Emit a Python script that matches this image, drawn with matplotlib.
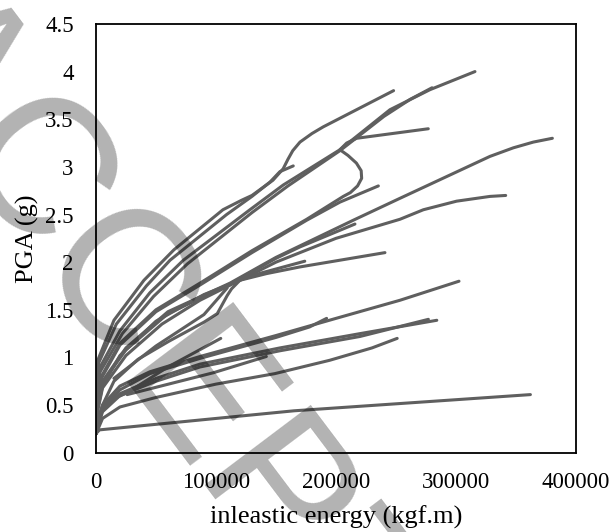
import matplotlib
matplotlib.use("Agg")
import matplotlib.pyplot as plt

plt.rcParams['font.family'] = ['Liberation Serif', 'DejaVu Serif']

# IDA-type curves: inelastic energy (kgf.m) vs PGA (g)
top_38_x = [0, 800, 1500, 15000, 40000, 65000, 105800, 121400, 130000, 147500, 156000, 160000, 164000, 170000, 180000, 189400, 248000]
top_38_y = [0.20, 0.80, 0.97, 1.39, 1.81, 2.13, 2.55, 2.65, 2.70, 2.86, 2.98, 3.08, 3.17, 3.26, 3.35, 3.42, 3.80]

c30_x = [0, 800, 2500, 17000, 42000, 61700, 108900, 130000, 145000, 153300, 164400]
c30_y = [0.20, 0.70, 0.95, 1.35, 1.75, 2.02, 2.50, 2.69, 2.84, 2.95, 3.01]

c40_x = [0, 800, 3500, 20000, 45000, 72800, 128300, 156100, 203300, 245000, 278300, 315800]
c40_y = [0.20, 0.60, 0.90, 1.28, 1.68, 2.02, 2.55, 2.81, 3.18, 3.60, 3.81, 4.00]

c38_x = [0, 800, 3500, 22000, 48000, 76000, 130000, 160000, 203300, 240000, 262000, 280000]
c38_y = [0.20, 0.55, 0.85, 1.25, 1.64, 1.98, 2.52, 2.80, 3.17, 3.53, 3.71, 3.83]

loop34_x = [0, 800, 4500, 20000, 50000, 86700, 130000, 175600, 206100, 212000, 218000, 221400, 221000, 217000, 210000, 203300, 208900, 217200, 276900]
loop34_y = [0.20, 0.50, 0.80, 1.15, 1.50, 1.78, 2.12, 2.45, 2.69, 2.73, 2.80, 2.88, 2.96, 3.04, 3.12, 3.18, 3.25, 3.30, 3.40]

c28_x = [0, 800, 4500, 20000, 50000, 86700, 130000, 175600, 203300, 235300]
c28_y = [0.20, 0.48, 0.78, 1.13, 1.48, 1.76, 2.10, 2.44, 2.63, 2.80]

c33_x = [0, 800, 5500, 25000, 60000, 111700, 150000, 214400, 253300, 328300, 347800, 364400, 380300]
c33_y = [0.20, 0.45, 0.75, 1.10, 1.48, 1.78, 2.05, 2.44, 2.67, 3.11, 3.20, 3.26, 3.30]

c24_x = [0, 800, 5500, 25000, 60000, 111700, 150000, 170000, 215800]
c24_y = [0.20, 0.45, 0.74, 1.08, 1.46, 1.77, 2.04, 2.16, 2.40]

c27_x = [0, 800, 5500, 25000, 55000, 86700, 150000, 200000, 253300, 272800, 300500, 328300, 341400]
c27_y = [0.20, 0.40, 0.68, 1.02, 1.35, 1.60, 2.00, 2.25, 2.45, 2.55, 2.64, 2.69, 2.70]

c21_x = [0, 800, 5500, 15000, 35000, 60800, 90000, 101100, 109400, 113000, 120000, 142200, 170000, 240800]
c21_y = [0.20, 0.30, 0.50, 0.75, 0.98, 1.17, 1.37, 1.46, 1.65, 1.72, 1.81, 1.88, 1.95, 2.10]

c20_x = [0, 800, 5500, 20000, 50000, 90000, 130000, 174000]
c20_y = [0.20, 0.42, 0.70, 1.02, 1.38, 1.66, 1.86, 2.01]

t17_x = [15000, 50000, 90000, 109400]
t17_y = [0.78, 1.12, 1.45, 1.73]

c12s_x = [0, 800, 4500, 12000, 26000, 60000, 104000]
c12s_y = [0.20, 0.30, 0.45, 0.55, 0.63, 0.90, 1.20]

c18_x = [0, 800, 5500, 20000, 45000, 86700, 150000, 200000, 253300, 302500]
c18_y = [0.20, 0.30, 0.50, 0.70, 0.85, 1.01, 1.23, 1.41, 1.60, 1.80]

c14s_x = [0, 800, 5500, 20000, 45000, 86700, 150000, 178000, 192200]
c14s_y = [0.20, 0.28, 0.47, 0.66, 0.83, 0.99, 1.21, 1.32, 1.41]

c14a_x = [0, 800, 5500, 20000, 50000, 86700, 153300, 220000, 284000]
c14a_y = [0.20, 0.25, 0.45, 0.62, 0.78, 0.93, 1.10, 1.25, 1.39]

c14b_x = [0, 800, 5500, 20000, 50000, 86700, 153300, 220000, 277000]
c14b_y = [0.20, 0.24, 0.43, 0.60, 0.75, 0.90, 1.07, 1.22, 1.40]

c12_x = [0, 800, 5500, 20000, 50000, 100000, 149000, 194700, 230000, 251000]
c12_y = [0.20, 0.22, 0.36, 0.48, 0.58, 0.72, 0.83, 0.97, 1.10, 1.20]

t10_x = [26000, 98000, 142000]
t10_y = [0.61, 0.84, 1.01]

c06_x = [0, 3000, 165000, 362000]
c06_y = [0.20, 0.24, 0.44, 0.61]

curves = [
    (top_38_x, top_38_y), (c30_x, c30_y), (c40_x, c40_y), (c38_x, c38_y),
    (loop34_x, loop34_y), (c28_x, c28_y), (c33_x, c33_y), (c24_x, c24_y),
    (c27_x, c27_y), (c21_x, c21_y), (c20_x, c20_y), (t17_x, t17_y),
    (c12s_x, c12s_y), (c18_x, c18_y), (c14s_x, c14s_y), (c14a_x, c14a_y),
    (c14b_x, c14b_y), (c12_x, c12_y), (t10_x, t10_y), (c06_x, c06_y),
]

x_ticks = [0, 100000, 200000, 300000, 400000]
y_ticks = [0, 0.5, 1, 1.5, 2, 2.5, 3, 3.5, 4, 4.5]
y_tick_labels = ['0', '0.5', '1', '1.5', '2', '2.5', '3', '3.5', '4', '4.5']

fig = plt.figure(figsize=(6.15, 5.32), dpi=100)
ax = fig.add_axes([0.156, 0.149, 0.7806, 0.806])

for xs, ys in curves:
    ax.plot(xs, ys, color='#5f5f5f', linewidth=2.2, solid_capstyle='round',
            solid_joinstyle='round')

ax.set_xlim(0, 400000)
ax.set_ylim(0, 4.5)
ax.set_xticks(x_ticks)
ax.set_xticklabels([str(v) for v in x_ticks])
ax.set_yticks(y_ticks)
ax.set_yticklabels(y_tick_labels)
ax.tick_params(length=0, labelsize=16.5)
ax.tick_params(axis='y', pad=16)
ax.tick_params(axis='x', pad=14)
for sp in ax.spines.values():
    sp.set_color('black')
    sp.set_linewidth(1.3)

ax.set_xlabel('inleastic energy (kgf.m)', fontsize=19)
ax.set_ylabel('PGA (g)', fontsize=19)
ax.xaxis.set_label_coords(0.5, -0.124)
ax.yaxis.set_label_coords(-0.119, 0.5)

# light watermark across the figure
fig.text(-128 / 615, 1 - 44 / 532, 'ACCEPTED MANUSCRIPT', fontsize=139,
         family='Liberation Sans', color='black', alpha=0.3,
         rotation=-53, rotation_mode='anchor', ha='left', va='baseline',
         zorder=10)

fig.savefig('out.png', dpi=100)
